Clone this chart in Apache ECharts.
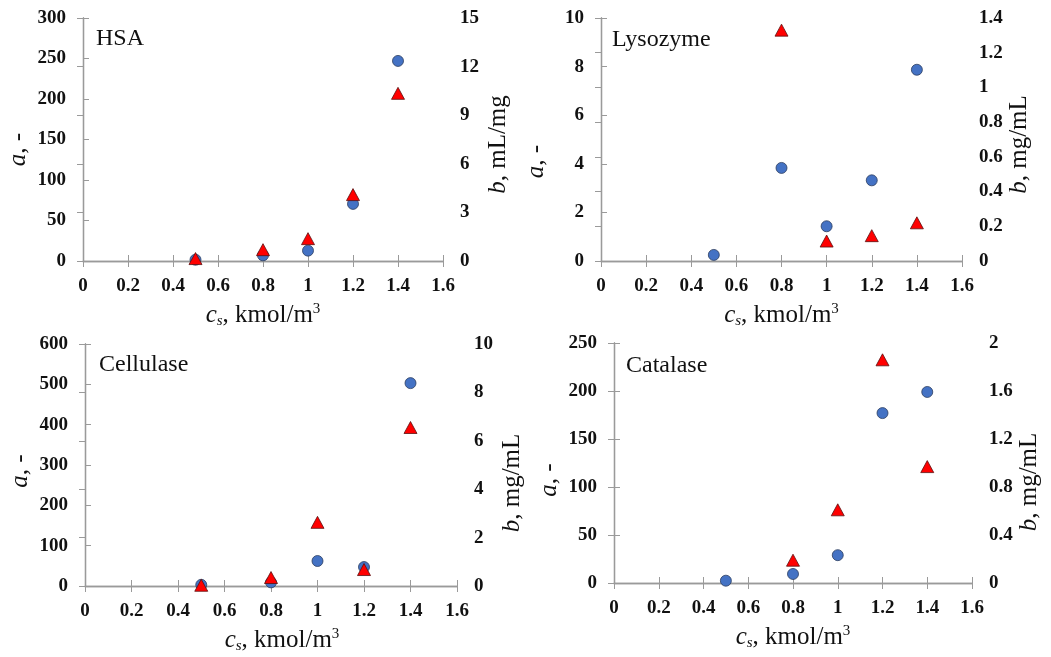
<!DOCTYPE html>
<html>
<head>
<meta charset="utf-8">
<script src="https://cdn.jsdelivr.net/npm/echarts@6/dist/echarts.min.js"></script>
<style>
  html, body { margin: 0; padding: 0; background: #fff; }
  #chart { width: 1051px; height: 657px; }
</style>
</head>
<body>
<div id="chart"></div>
<script>
// Salt concentration c_s (kmol/m3) at which each protein was measured
const cs = [0.5, 0.8, 1.0, 1.2, 1.4];

// Parameter a (dimensionless) and b for each protein
const hsaA = [1.6, 7, 12.8, 70.5, 247];
const hsaB = [0.15, 0.7, 1.38, 4.1, 10.35];
const lysozymeA = [0.25, 3.83, 1.43, 3.32, 7.87];
const lysozymeB = [null, 1.33, 0.115, 0.146, 0.22];
const cellulaseA = [3, 9, 62, 47, 503];
const cellulaseB = [0.03, 0.35, 2.63, 0.68, 6.55];
const catalaseA = [2.4, 9.4, 29, 177, 199];
const catalaseB = [null, 0.19, 0.61, 1.86, 0.97];

const panelNames = ['HSA', 'Lysozyme', 'Cellulase', 'Catalase'];
const bUnits = ['mL/mg', 'mg/mL', 'mg/mL', 'mg/mL'];
// axis ranges: [max, interval] for a (left) and b (right)
const aRanges = [[300, 50], [10, 2], [600, 100], [250, 50]];
const bRanges = [[15, 3], [1.4, 0.2], [10, 2], [2, 0.4]];
const xTicks = [0, 1.6, 0.2];

const seriesA = [hsaA, lysozymeA, cellulaseA, catalaseA];
const seriesB = [hsaB, lysozymeB, cellulaseB, catalaseB];

// plot-area boxes for the four panels, plus small nudges for the axis names
const boxes = [
  { left: 83, top: 18, width: 360, height: 243, titleLeft: 96, titleTop: 27, aShift: 10, bShift: 5, xShift: 0 },
  { left: 601, top: 18, width: 361, height: 243, titleLeft: 612, titleTop: 28, aShift: 22, bShift: 5, xShift: 0 },
  { left: 85, top: 344, width: 372, height: 242, titleLeft: 99, titleTop: 353, aShift: 6, bShift: 18, xShift: 11 },
  { left: 614, top: 343, width: 358, height: 240, titleLeft: 626, titleTop: 354, aShift: 17, bShift: 19, xShift: 0 }
];

const SERIF = '"Liberation Serif", "Times New Roman", serif';
const FRAME = '#9a9a9a';

function pairs(xs, ys) {
  const out = [];
  xs.forEach((x, i) => { if (ys[i] != null) out.push([x, ys[i]]); });
  return out;
}

const tickLabel = { fontFamily: SERIF, fontWeight: 'bold', fontSize: 19, color: '#111' };
const nameRich = {
  i: { fontFamily: SERIF, fontStyle: 'italic', fontSize: 25, color: '#111' },
  n: { fontFamily: SERIF, fontSize: 25, color: '#111' },
  sub: { fontFamily: SERIF, fontStyle: 'italic', fontSize: 15, color: '#111', padding: [13, 0, 0, 0] },
  sup: { fontFamily: SERIF, fontSize: 15, color: '#111', padding: [0, 0, 11, 0] }
};

// a positive shift moves a rotated (bottom-to-top) name downwards
function shiftPad(s) {
  return s >= 0 ? [0, 2 * s, 0, 0] : [0, 0, 0, -2 * s];
}

const grid = [], xAxis = [], yAxis = [], series = [], title = [];

boxes.forEach((b, k) => {
  grid.push({ left: b.left, top: b.top, width: b.width, height: b.height, containLabel: false, outerBoundsMode: 'none' });
  title.push({
    text: panelNames[k], left: b.titleLeft, top: b.titleTop, padding: 0,
    textStyle: { fontFamily: SERIF, fontWeight: 'normal', fontSize: 24, color: '#111' }
  });
  // bottom axis with labels
  xAxis.push({
    gridIndex: k, type: 'value', position: 'bottom',
    min: xTicks[0], max: xTicks[1], interval: xTicks[2],
    name: '{i|c}{sub|s}{n|, kmol/m}{sup|3}', nameLocation: 'middle', nameGap: 40,
    nameTextStyle: { rich: nameRich, padding: [0, 0, 0, 2 * b.xShift] },
    axisLine: { show: true, lineStyle: { color: FRAME, width: 1.3 } },
    axisTick: { show: true, inside: true, length: 6, lineStyle: { color: FRAME } },
    axisLabel: Object.assign({ margin: 16 }, tickLabel),
    splitLine: { show: false }
  });
  // top frame edge with inner ticks
  xAxis.push({
    gridIndex: k, type: 'value', position: 'top',
    min: xTicks[0], max: xTicks[1], interval: xTicks[2],
    axisLine: { show: true, lineStyle: { color: FRAME, width: 1.3 } },
    axisTick: { show: true, inside: true, length: 6, lineStyle: { color: FRAME } },
    axisLabel: { show: false }, splitLine: { show: false }
  });
  yAxis.push({
    gridIndex: k, type: 'value', position: 'left',
    min: 0, max: aRanges[k][0], interval: aRanges[k][1],
    name: '{i|a}{n|, -}', nameLocation: 'middle', nameGap: 52, nameRotate: 90,
    nameTextStyle: { rich: nameRich, padding: shiftPad(b.aShift) },
    axisLine: { show: true, lineStyle: { color: FRAME, width: 1.3 } },
    axisTick: { show: true, inside: true, length: 6, lineStyle: { color: FRAME } },
    axisLabel: Object.assign({ margin: 17 }, tickLabel),
    splitLine: { show: false }
  });
  yAxis.push({
    gridIndex: k, type: 'value', position: 'right',
    min: 0, max: bRanges[k][0], interval: bRanges[k][1],
    name: '{i|b}{n|, ' + bUnits[k] + '}', nameLocation: 'middle', nameGap: 43, nameRotate: 90,
    nameTextStyle: { rich: nameRich, padding: shiftPad(b.bShift) },
    axisLine: { show: true, lineStyle: { color: FRAME, width: 1.3 } },
    axisTick: { show: true, inside: true, length: 6, lineStyle: { color: FRAME } },
    axisLabel: Object.assign({ margin: 17 }, tickLabel),
    splitLine: { show: false }
  });
  series.push({
    type: 'scatter', xAxisIndex: 2 * k, yAxisIndex: 2 * k,
    data: pairs(cs, seriesA[k]), symbol: 'circle', symbolSize: 11,
    itemStyle: { color: '#4472C4', borderColor: '#2c3e60', borderWidth: 0.8, opacity: 1 },
    emphasis: { disabled: true }, z: 2
  });
  series.push({
    type: 'scatter', xAxisIndex: 2 * k, yAxisIndex: 2 * k + 1,
    data: pairs(cs, seriesB[k]), symbol: 'triangle', symbolSize: [13, 12],
    itemStyle: { color: '#FF0000', borderColor: '#5a1010', borderWidth: 0.8, opacity: 1 },
    emphasis: { disabled: true }, z: 3
  });
});

const chart = echarts.init(document.getElementById('chart'), null, { renderer: 'canvas' });
chart.setOption({
  backgroundColor: '#fff',
  animation: false,
  title, grid, xAxis, yAxis, series
});
</script>
</body>
</html>
